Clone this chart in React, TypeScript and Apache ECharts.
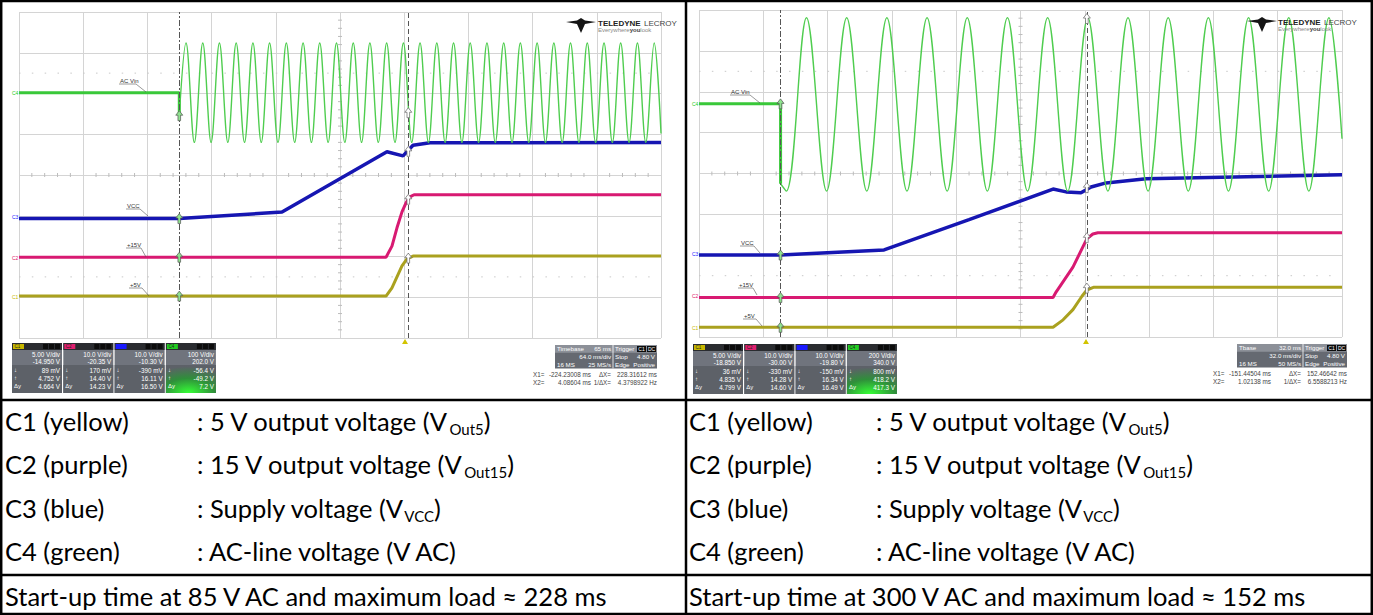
import React, { useEffect, useRef } from "react";
import * as echarts from "echarts";

type Pt = [number, number];

// ================= LEFT CAPTURE : 85 V AC, maximum load =================
const leftTimeMin = -384; // ms
const leftTimeMax = 256;
const leftMsPerDiv = 64;
const leftVoltsPerDiv = [5, 10, 10, 100]; // C1..C4
const leftOffsets = [-14.95, -20.35, -10.3, 202.0];
const leftCursorTimes = [-224.23008, 4.08604];
const leftCursorVolts = [[0.089, 4.752], [0.17, 14.4], [-0.39, 16.11], [-56.4, -49.2]];

const leftVout5: Pt[] = [[-384, 0.09], [-18.1, 0.09], [-12.2, 1.1], [-7.2, 2.45], [-2.2, 3.8], [2.8, 4.66], [8.8, 5.0], [256, 5.0]];
const leftVout15: Pt[] = [[-384, 0.17], [-18.1, 0.17], [-12.2, 2.9], [-7.2, 7.4], [-2.2, 11.3], [1.8, 13.5], [5.8, 15.0], [9.8, 15.5], [256, 15.5]];
const leftVcc: Pt[] = [[-384, -0.39], [-224.2, -0.39], [-121.8, 1.2], [-17.2, 16.0], [-1.2, 15.0], [8.8, 17.6], [25.7, 18.2], [256, 18.3]];
const leftAcOff: Pt[] = [[-384, 0], [-224.2, 0], [-224.2, -56]];
const leftAcVin: Pt[] = [
  [-224.2, -56], [-217.5, 122], [-209.2, -122], [-200.8, 122], [-192.5, -122], [-184.2, 122], [-175.8, -122],
  [-167.5, 122], [-159.2, -122], [-150.8, 122], [-142.5, -122], [-134.2, 122], [-125.8, -122], [-117.5, 122],
  [-109.2, -122], [-100.8, 122], [-92.5, -122], [-84.2, 122], [-75.8, -122], [-67.5, 122], [-59.2, -122],
  [-50.8, 122], [-42.5, -122], [-34.2, 122], [-25.8, -122], [-17.5, 122], [-9.2, -122], [-0.8, 122],
  [7.5, -122], [15.8, 122], [24.2, -122], [32.5, 122], [40.8, -122], [49.2, 122], [57.5, -122], [65.8, 122],
  [74.2, -122], [82.5, 122], [90.8, -122], [99.2, 122], [107.5, -122], [115.8, 122], [124.2, -122],
  [132.5, 122], [140.8, -122], [149.2, 122], [157.5, -122], [165.8, 122], [174.2, -122], [182.5, 122],
  [190.8, -122], [199.2, 122], [207.5, -122], [215.8, 122], [224.2, -122], [232.5, 122], [240.8, -122],
  [249.2, 122], [256, -100],
];
const leftPanelRows = [
  ["5.00 V/div", "-14.950 V", "89 mV", "4.752 V", "4.664 V"],
  ["10.0 V/div", "-20.35 V", "170 mV", "14.40 V", "14.23 V"],
  ["10.0 V/div", "-10.30 V", "-390 mV", "16.11 V", "16.50 V"],
  ["100 V/div", "202.0 V", "-56.4 V", "-49.2 V", "7.2 V"],
];
const leftTimebase = [["Timebase", "65 ms"], ["", "64.0 ms/div"], ["16 MS", "25 MS/s"]];
const leftReadout = [["X1=", "-224.23008 ms", "ΔX=", "228.31612 ms"], ["X2=", "4.08604 ms", "1/ΔX=", "4.3798922 Hz"]];

// ================= RIGHT CAPTURE : 300 V AC, maximum load =================
const rightTimeMin = -192;
const rightTimeMax = 128;
const rightMsPerDiv = 32;
const rightVoltsPerDiv = [5, 10, 10, 200];
const rightOffsets = [-18.85, -30.0, -19.8, 340.0];
const rightCursorTimes = [-151.44504, 1.02138];
const rightCursorVolts = [[0.036, 4.835], [-0.33, 14.28], [-0.15, 16.34], [0.8, 418.2]];

const rightVout5: Pt[] = [[-192, 0.04], [-15.8, 0.04], [-10.8, 0.95], [-5.9, 2.2], [-1.5, 3.8], [1.0, 4.6], [4.6, 4.95], [128, 4.95]];
const rightVout15: Pt[] = [[-192, -0.33], [-15.8, -0.33], [-14.3, 1.0], [-5.9, 7.1], [1.0, 14.0], [4.0, 15.2], [6.5, 15.5], [128, 15.5]];
const rightVcc: Pt[] = [[-192, -0.15], [-151.4, -0.15], [-99.9, 1.1], [-57.6, 8.5], [-15.8, 16.0], [-9.3, 15.3], [-1.9, 15.1], [3.1, 16.5], [10.6, 17.5], [30.5, 18.5], [128, 19.5]];
const rightAcOff: Pt[] = [[-192, 0.8], [-151.4, 0.8], [-151.4, -390]];
const rightAcVin: Pt[] = [
  [-151.4, -390], [-148.5, -426], [-138.5, 422], [-128.5, -426], [-118.5, 422], [-108.5, -426], [-98.5, 422],
  [-88.5, -426], [-78.5, 422], [-68.5, -426], [-58.5, 422], [-48.5, -426], [-38.5, 422], [-28.5, -426],
  [-18.5, 422], [-8.5, -426], [1.5, 422], [11.5, -426], [21.5, 422], [31.5, -426], [41.5, 422], [51.5, -426],
  [61.5, 422], [71.5, -426], [81.5, 422], [91.5, -426], [101.5, 422], [111.5, -426], [121.5, 422], [128, -170],
];
const rightPanelRows = [
  ["5.00 V/div", "-18.850 V", "36 mV", "4.835 V", "4.799 V"],
  ["10.0 V/div", "-30.00 V", "-330 mV", "14.28 V", "14.60 V"],
  ["10.0 V/div", "-19.80 V", "-150 mV", "16.34 V", "16.49 V"],
  ["200 V/div", "340.0 V", "800 mV", "418.2 V", "417.3 V"],
];
const rightTimebase = [["Tbase", "32.0 ms"], ["", "32.0 ms/div"], ["16 MS", "50 MS/s"]];
const rightReadout = [["X1=", "-151.44504 ms", "ΔX=", "152.46642 ms"], ["X2=", "1.02138 ms", "1/ΔX=", "6.5588213 Hz"]];

const triggerRows = [["Trigger", ""], ["Stop", "4.80 V"], ["Edge", "Positive"]];

// ================= TABLE TEXT =================
const channelNames = ["C1 (yellow)", "C2 (purple)", "C3 (blue)", "C4 (green)"];
const channelDescriptions = [
  [": 5 V output voltage (V", "Out5", ")"],
  [": 15 V output voltage (V", "Out15", ")"],
  [": Supply voltage (V", "VCC", ")"],
  [": AC-line voltage (V AC)", "", ""],
];
const startupNotes = [
  "Start-up time at 85 V AC and maximum load ≈ 228 ms",
  "Start-up time at 300 V AC and maximum load ≈ 152 ms",
];

const CH_COLORS = ["#aaa11f", "#d81a72", "#1616b2", "#4fcd4f"];
const CH_WIDTHS = [3, 3, 3.5, 1.4];
const TAG_COLORS = ["#c8b700", "#e0206e", "#1a1aff", "#22cc22"];
const SF = "'Liberation Sans', Arial, sans-serif";
const TF = "Lato, 'Noto Sans', sans-serif";
const TS = 25.5;

function T(x: number, y: number, text: string, size: number, fill: string, align = "left", weight: any = "normal", family = SF, z = 50): any {
  return {
    type: "text", silent: true, z,
    style: { x, y, text, fill, fontSize: size, fontFamily: family, fontWeight: weight, align, textAlign: align, verticalAlign: "middle", textVerticalAlign: "middle" },
  };
}
function L(x1: number, y1: number, x2: number, y2: number, stroke: string, lineWidth = 1, lineDash?: number[], z = 50): any {
  return { type: "line", silent: true, z, shape: { x1, y1, x2, y2 }, style: { stroke, lineWidth, lineDash } };
}
function R(x: number, y: number, width: number, height: number, fill: any, z = 50): any {
  return { type: "rect", silent: true, z, shape: { x, y, width, height }, style: { fill } };
}

function gridDecor(g: any): any[] {
  const els: any[] = [];
  const cx = g.left + g.width / 2, cy = g.top + g.height / 2;
  for (let i = 1; i < 50; i++) if (i % 5) { const x = g.left + (i * g.width) / 50; els.push(L(x, cy - 2, x, cy + 2, "#bcbcbc", 1, undefined, 1)); }
  for (let j = 1; j < 40; j++) if (j % 5) { const y = g.top + (j * g.height) / 40; els.push(L(cx - 2, y, cx + 2, y, "#bcbcbc", 1, undefined, 1)); }
  [1.5, 6.5].forEach((d) => {
    const y = g.top + (d * g.height) / 8;
    els.push(L(g.left, y, g.left + g.width, y, "#c8c8c8", 1, [1.5, g.width / 50 - 1.5], 1));
  });
  return els;
}

function channelPanel(x0: number, y0: number, rows: string[][]): any[] {
  const els: any[] = [];
  const tags = ["C1", "C2", "", "C4"];
  for (let i = 0; i < 4; i++) {
    const x = x0 + i * 51.3, w = 50, h = 50;
    els.push(R(x, y0, w, h, "#70747d"));
    els.push(R(x, y0 + 22, w, h - 22, "#5d6168"));
    if (i === 3)
      els.push(R(x, y0 + 22, w, h - 22, {
        type: "radial", x: 0.45, y: 1, r: 0.95,
        colorStops: [{ offset: 0, color: "#36ff36" }, { offset: 0.55, color: "#2f8f3a" }, { offset: 1, color: "#5d6168" }],
      }));
    els.push(R(x, y0, w, 7, "#2a2c30"));
    els.push(R(x + 1, y0 + 1, 11, 5, TAG_COLORS[i]));
    if (tags[i]) els.push(T(x + 2.5, y0 + 3.7, tags[i], 4.5, "#222"));
    for (let k = 0; k < 3; k++) els.push(R(x + w - 19 + k * 6, y0 + 1, 5, 5, "#0c0c0c"));
    const ys = [y0 + 11.5, y0 + 18.5, y0 + 27, y0 + 35, y0 + 43];
    rows[i].forEach((s, k) => els.push(T(x + w - 2, ys[k], s, 6.3, "#ffffff", "right")));
    ["↓", "↑", "Δy"].forEach((s, k) => els.push(T(x + 2, ys[k + 2], s, 6, "#ffffff")));
  }
  return els;
}

function timebasePanel(x0: number, y0: number, w1: number, w2: number, tb: string[][], ro: string[][], roLeft: number): any[] {
  const els: any[] = [];
  const h = 7.8;
  els.push(R(x0, y0, w1 + w2, h * 3, "#656971"));
  els.push(R(x0, y0, w1, h, "#8c9098"));
  els.push(R(x0 + w1, y0, w2, h, "#8c9098"));
  els.push(L(x0 + w1, y0, x0 + w1, y0 + h * 3, "#ffffff", 0.8));
  tb.forEach((r, k) => {
    const y = y0 + h * k + h / 2;
    if (r[0]) els.push(T(x0 + 2, y, r[0], 6.2, "#ffffff"));
    els.push(T(x0 + w1 - 2, y, r[1], 6.2, "#ffffff", "right"));
  });
  triggerRows.forEach((r, k) => {
    const y = y0 + h * k + h / 2;
    els.push(T(x0 + w1 + 2, y, r[0], 6.2, "#ffffff"));
    if (r[1]) els.push(T(x0 + w1 + w2 - 2, y, r[1], 6.2, "#ffffff", "right"));
  });
  els.push(R(x0 + w1 + w2 - 20, y0 + 1, 9, 6, "#0c0c0c"));
  els.push(R(x0 + w1 + w2 - 10, y0 + 1, 9, 6, "#0c0c0c"));
  els.push(T(x0 + w1 + w2 - 15.5, y0 + 4, "C1", 5, "#ffffff", "center"));
  els.push(T(x0 + w1 + w2 - 5.5, y0 + 4, "DC", 5, "#ffffff", "center"));
  const right = x0 + w1 + w2;
  ro.forEach((r, k) => {
    const y = y0 + h * 3 + 6 + k * 8;
    els.push(T(roLeft, y, r[0], 6.3, "#444"));
    els.push(T(roLeft + 58, y, r[1], 6.3, "#444", "right"));
    els.push(T(right - 46, y, r[2], 6.3, "#444", "right"));
    els.push(T(right, y, r[3], 6.3, "#444", "right"));
  });
  return els;
}

function logo(ix: number, iy: number, tx: number, ty: number): any[] {
  const pts = [[0, 4], [11, 2.5], [15, 0], [19, 2.5], [30, 4], [19, 6], [15, 15], [11, 6]].map((p) => [ix + p[0], iy + p[1]]);
  return [
    { type: "polygon", silent: true, z: 50, shape: { points: pts }, style: { fill: "#151515" } },
    {
      type: "text", silent: true, z: 50,
      style: {
        x: tx, y: ty, text: "{b|TELEDYNE} {n|LECROY}", verticalAlign: "middle", textVerticalAlign: "middle",
        rich: { b: { fontSize: 8, fontWeight: "bold", fill: "#222", color: "#222", fontFamily: SF }, n: { fontSize: 8, fill: "#444", color: "#444", fontFamily: SF } },
      },
    },
    {
      type: "text", silent: true, z: 50,
      style: {
        x: tx, y: ty + 6.5, text: "{n|Everywhere}{b|you}{n|look}", verticalAlign: "middle", textVerticalAlign: "middle",
        rich: { b: { fontSize: 6, fontWeight: "bold", fill: "#444", color: "#444", fontFamily: SF }, n: { fontSize: 6, fill: "#888", color: "#888", fontFamily: SF } },
      },
    },
  ];
}

function traceLabel(tx: number, ty: number, text: string, w: number, ex: number, ey: number): any[] {
  return [
    T(tx, ty, text, 6, "#333"),
    L(tx - 1, ty + 3, tx + w, ty + 3, "#555", 0.6),
    L(tx + w, ty + 3, ex, ey, "#555", 0.6),
  ];
}

const ARROW = "path://M4,0 L8,5 L5.5,5 L5.5,11 L2.5,11 L2.5,5 L0,5 Z";

function buildScope(s: number, cfg: any, series: any[], xAxes: any[], yAxes: any[], grids: any[]) {
  grids.push({ left: cfg.grid.left, top: cfg.grid.top, width: cfg.grid.width, height: cfg.grid.height, show: false });
  const hidden = { axisLine: { show: false }, axisTick: { show: false }, axisLabel: { show: false } };
  const split = { show: true, lineStyle: { color: "#d4d4d4", width: 1 } };
  xAxes.push({ type: "value", gridIndex: s, min: cfg.tMin, max: cfg.tMax, interval: cfg.msPerDiv, ...hidden, splitLine: split });
  yAxes.push({ type: "value", gridIndex: s, min: -4, max: 4, interval: 1, ...hidden, splitLine: split });
  for (let c = 0; c < 4; c++) {
    yAxes.push({ type: "value", gridIndex: s, show: false, min: -4 * cfg.vdiv[c] - cfg.off[c], max: 4 * cfg.vdiv[c] - cfg.off[c], splitLine: { show: false } });
  }
  const base = s * 5;
  const names = ["C1", "C2", "C3", "C4"];
  // C4 before switch-on (flat, unsmoothed)
  series.push({
    type: "line", name: "C4 off " + s, xAxisIndex: s, yAxisIndex: base + 4, data: cfg.acOff, showSymbol: false, symbol: "none",
    silent: true, z: 3, lineStyle: { color: "#39c839", width: 3 },
  });
  for (let c = 0; c < 4; c++) {
    const ser: any = {
      type: "line", name: names[c] + " " + s, xAxisIndex: s, yAxisIndex: base + 1 + c, data: cfg.traces[c],
      showSymbol: false, symbol: "none", silent: true, z: 2 + c * 0.1 + (c === 3 ? 2 : 0),
      smooth: c === 3 ? 0.36 : false,
      lineStyle: { color: CH_COLORS[c], width: CH_WIDTHS[c] },
      markPoint: {
        symbol: ARROW, symbolSize: [7, 10], silent: true, label: { show: false },
        data: [
          { coord: [cfg.cursors[0], cfg.cursorVolts[c][0]], itemStyle: { color: "#8fe28f", borderColor: "#555", borderWidth: 0.7 } },
          { coord: [cfg.cursors[1], cfg.cursorVolts[c][1]], itemStyle: { color: "#ffffff", borderColor: "#666", borderWidth: 0.7 } },
        ],
      },
    };
    if (c === 0) {
      ser.markLine = {
        silent: true, symbol: ["none", "none"], label: { show: false },
        data: [
          { xAxis: cfg.cursors[0], lineStyle: { color: "#555", width: 1, type: [6, 2, 2, 2] } },
          { xAxis: cfg.cursors[1], lineStyle: { color: "#555", width: 1, type: [5, 3] } },
        ],
      };
    }
    series.push(ser);
  }
}

function buildOption(): any {
  const grids: any[] = [], xAxes: any[] = [], yAxes: any[] = [], series: any[] = [];
  const leftGrid = { left: 19, top: 12, width: 642, height: 326 };
  const rightGrid = { left: 699, top: 10, width: 643, height: 327 };
  buildScope(0, {
    grid: leftGrid, tMin: leftTimeMin, tMax: leftTimeMax, msPerDiv: leftMsPerDiv, vdiv: leftVoltsPerDiv, off: leftOffsets,
    traces: [leftVout5, leftVout15, leftVcc, leftAcVin], acOff: leftAcOff, cursors: leftCursorTimes, cursorVolts: leftCursorVolts,
  }, series, xAxes, yAxes, grids);
  buildScope(1, {
    grid: rightGrid, tMin: rightTimeMin, tMax: rightTimeMax, msPerDiv: rightMsPerDiv, vdiv: rightVoltsPerDiv, off: rightOffsets,
    traces: [rightVout5, rightVout15, rightVcc, rightAcVin], acOff: rightAcOff, cursors: rightCursorTimes, cursorVolts: rightCursorVolts,
  }, series, xAxes, yAxes, grids);

  const g: any[] = [];
  g.push(...gridDecor(leftGrid), ...gridDecor(rightGrid));

  // channel ground labels
  const gl = [[12, 297, "C1"], [12, 258, "C2"], [12, 217, "C3"], [12, 93, "C4"]];
  gl.forEach((d: any, i) => g.push(T(d[0], d[1], d[2], 5, TAG_COLORS[i])));
  const gr = [[692, 328, "C1"], [692, 296, "C2"], [692, 254, "C3"], [692, 104, "C4"]];
  gr.forEach((d: any, i) => g.push(T(d[0], d[1], d[2], 5, TAG_COLORS[i])));

  // trace labels
  g.push(...traceLabel(120, 81, "AC Vin", 16, 146, 92));
  g.push(...traceLabel(127, 206, "VCC", 13, 148, 216));
  g.push(...traceLabel(127, 245, "+15V", 14, 146, 257));
  g.push(...traceLabel(130, 285, "+5V", 12, 149, 296));
  g.push(...traceLabel(731, 92, "AC Vin", 19, 760, 103));
  g.push(...traceLabel(741, 243, "VCC", 13, 760, 253));
  g.push(...traceLabel(739, 285, "+15V", 14, 757, 295));
  g.push(...traceLabel(744, 316, "+5V", 12, 762, 326));

  // trigger markers
  g.push({ type: "polygon", silent: true, z: 50, shape: { points: [[405, 339], [402, 344], [408, 344]] }, style: { fill: "#d2c400" } });
  g.push({ type: "polygon", silent: true, z: 50, shape: { points: [[1086, 339], [1083, 344], [1089, 344]] }, style: { fill: "#d2c400" } });

  // info panels
  g.push(...channelPanel(12, 343, leftPanelRows));
  g.push(...channelPanel(693, 344, rightPanelRows));
  g.push(...timebasePanel(555, 345, 58, 44, leftTimebase, leftReadout, 533));
  g.push(...timebasePanel(1237, 344, 66, 44, rightTimebase, rightReadout, 1213));

  // logos
  g.push(...logo(566, 18, 598, 23));
  g.push(...logo(1247, 17, 1278, 22));

  // table lines
  const K = "#000";
  g.push(L(1, 1, 1372, 1, K, 2.5, undefined, 60));
  g.push(L(1, 614, 1372, 614, K, 2.5, undefined, 60));
  g.push(L(1.2, 0, 1.2, 615, K, 2.5, undefined, 60));
  g.push(L(1371.8, 0, 1371.8, 615, K, 2.5, undefined, 60));
  g.push(L(686, 0, 686, 615, K, 2.5, undefined, 60));
  g.push(L(0, 400, 1373, 400, K, 2.5, undefined, 60));
  g.push(L(0, 575, 1373, 575, K, 2.5, undefined, 60));

  // table text
  const rowY = [421, 464, 508, 551];
  const rich = {
    m: { fontSize: TS, lineHeight: 30, fontFamily: TF, fill: "#000", color: "#000" },
    s: { fontSize: 15, lineHeight: 15, fontFamily: TF, fill: "#000", color: "#000", verticalAlign: "bottom" },
  };
  [[5, 197], [689, 876]].forEach(([xa, xb]) => {
    channelNames.forEach((n, i) => {
      g.push(T(xa, rowY[i], n, TS, "#000", "left", "normal", TF, 60));
      const d = channelDescriptions[i];
      const txt = "{m|" + d[0] + "}" + (d[1] ? "{s|" + d[1] + "}{m|" + d[2] + "}" : "");
      g.push({ type: "text", silent: true, z: 60, style: { x: xb, y: rowY[i], text: txt, rich, verticalAlign: "middle", textVerticalAlign: "middle" } });
    });
  });
  g.push(T(5, 596, startupNotes[0], TS, "#000", "left", "normal", TF, 60));
  g.push(T(689, 596, startupNotes[1], TS, "#000", "left", "normal", TF, 60));

  return {
    animation: false,
    backgroundColor: "#ffffff",
    grid: grids,
    xAxis: xAxes,
    yAxis: yAxes,
    series,
    graphic: { elements: g },
  };
}

export default function App() {
  const ref = useRef<HTMLDivElement>(null);
  useEffect(() => {
    const chart = echarts.init(ref.current!, undefined, { renderer: "svg" });
    chart.setOption(buildOption());
    return () => chart.dispose();
  }, []);
  return <div ref={ref} style={{ position: "absolute", left: 0, top: 0, width: 1373, height: 615, background: "#fff" }} />;
}
